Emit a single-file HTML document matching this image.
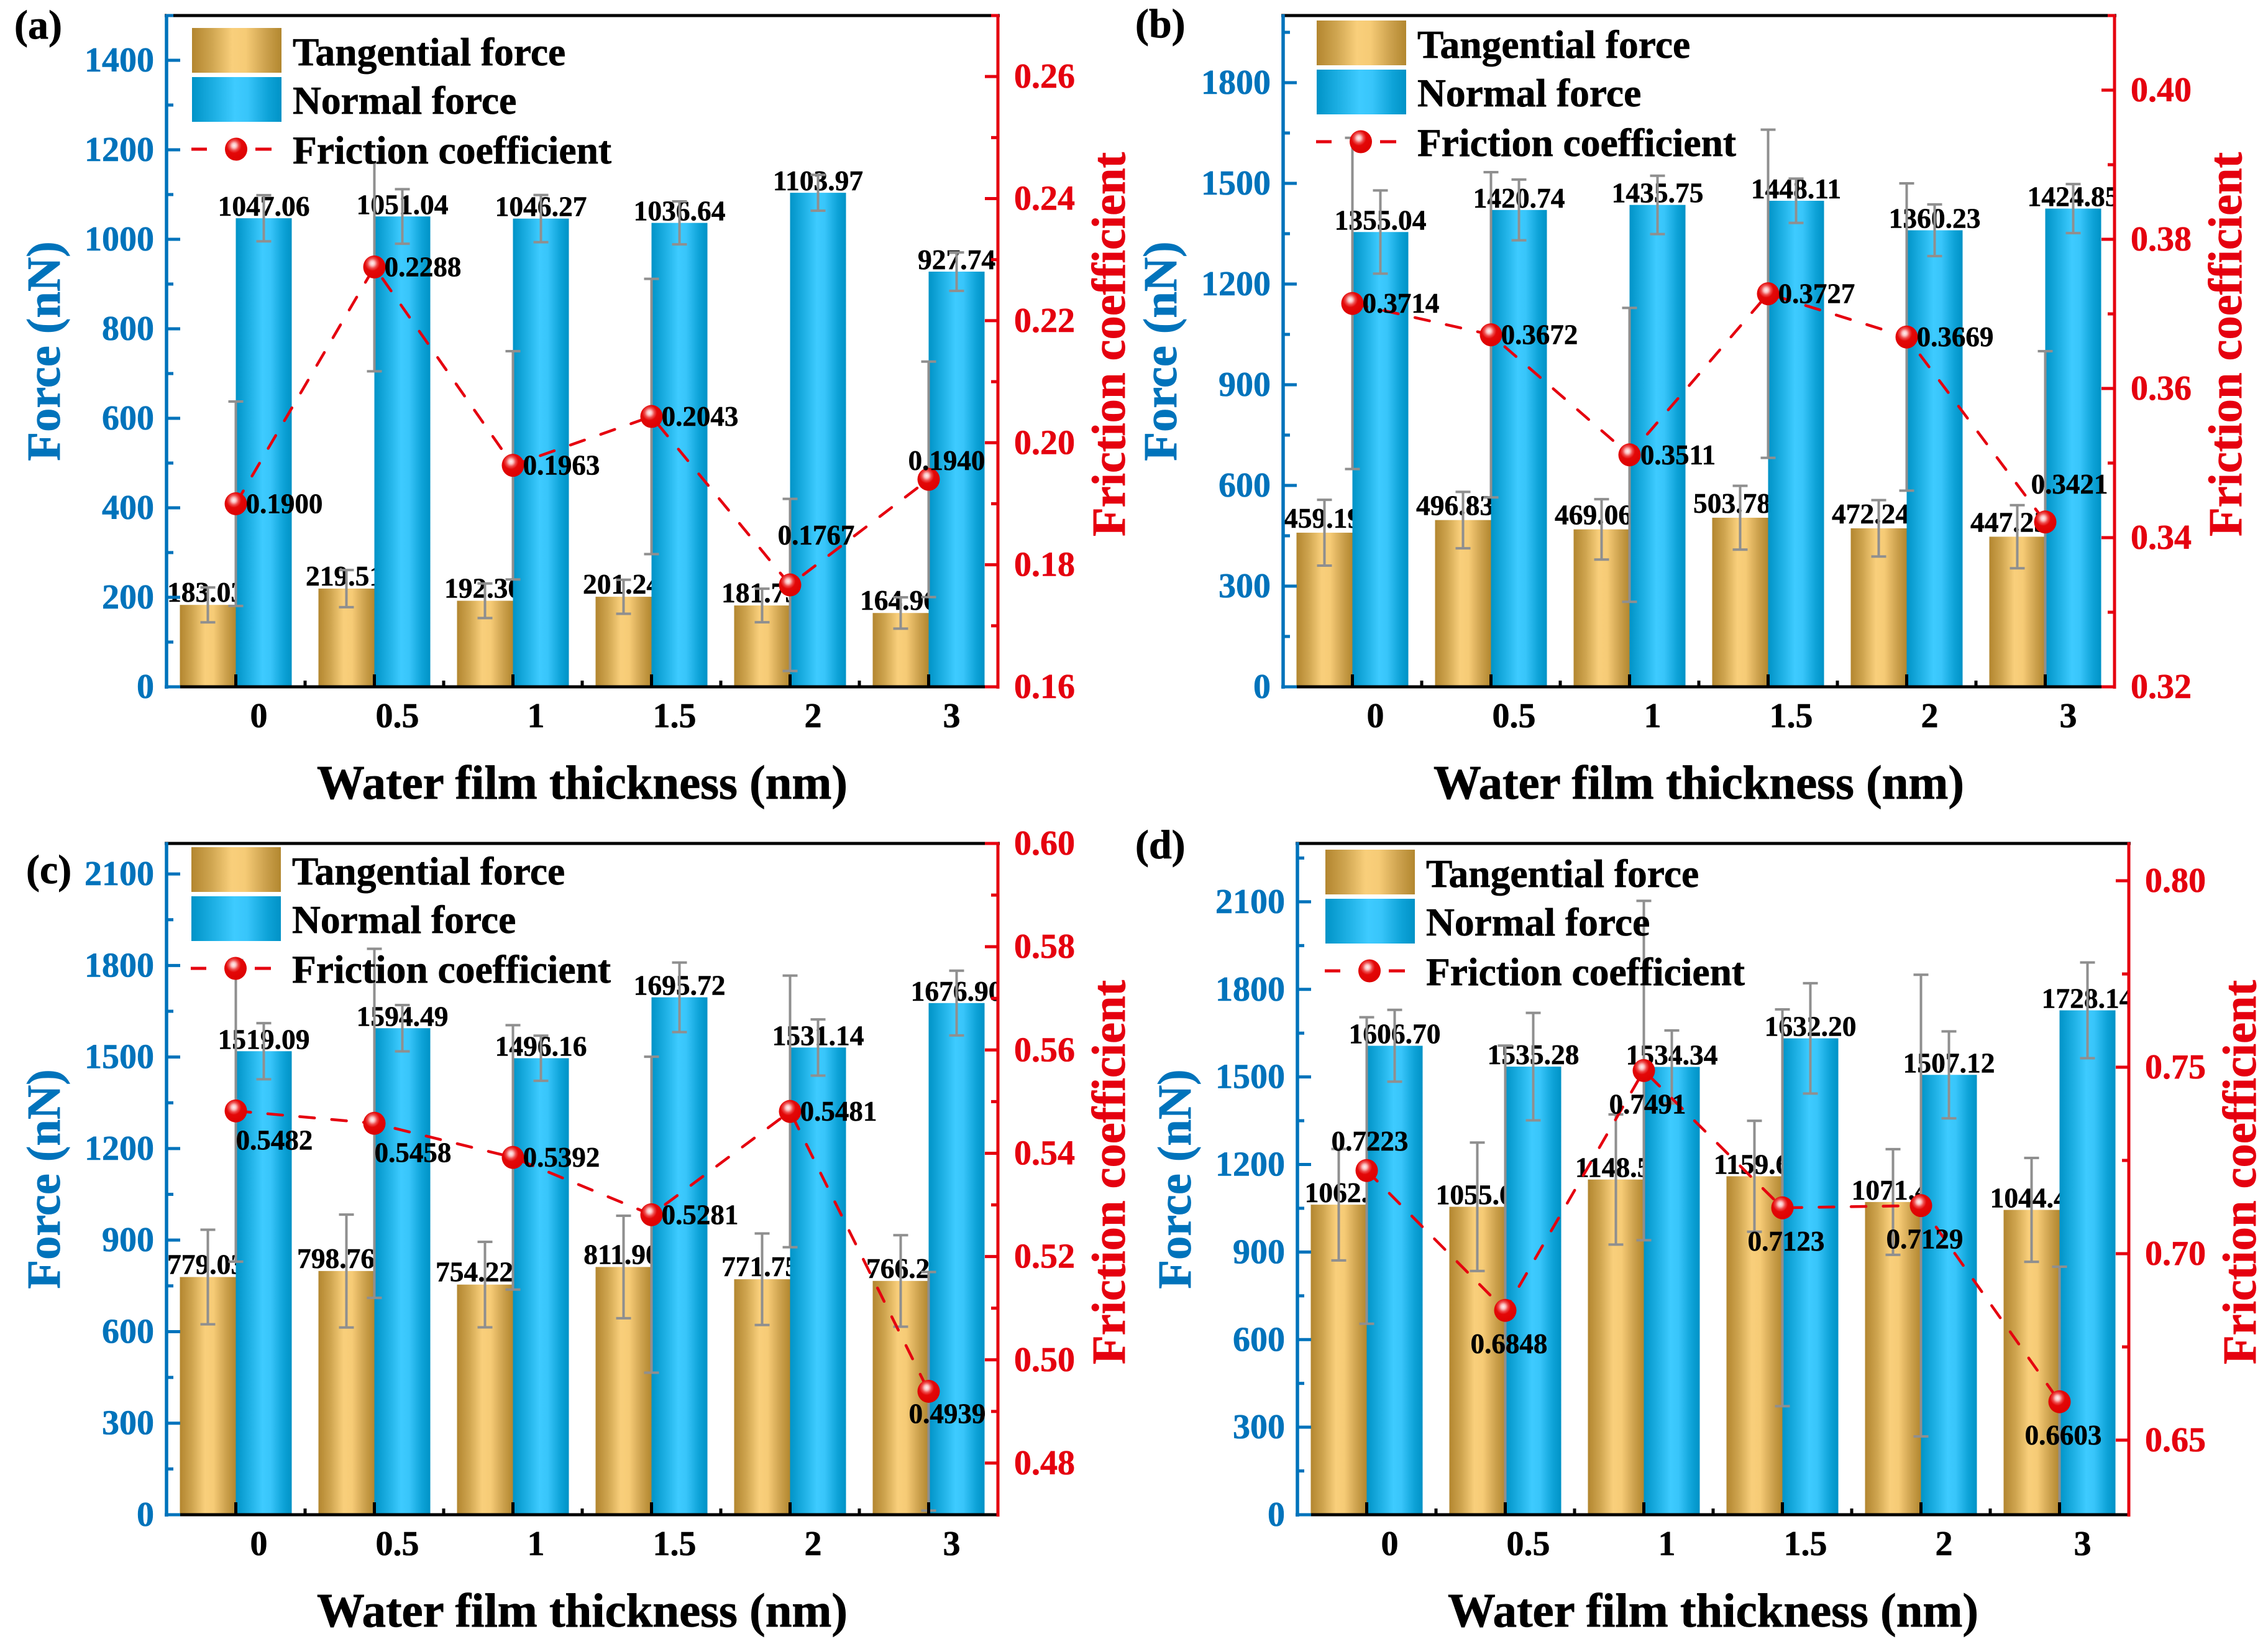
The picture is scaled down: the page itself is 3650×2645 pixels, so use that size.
<!DOCTYPE html>
<html lang="en">
<head>
<meta charset="utf-8">
<title>Force and friction coefficient versus water film thickness</title>
<style>
html,body{margin:0;padding:0;background:#fff;width:3650px;height:2645px;overflow:hidden}
svg{display:block}
text{font-family:"Liberation Serif",serif;font-weight:bold}
</style>
</head>
<body>
<svg id="figure" xmlns="http://www.w3.org/2000/svg" width="3650" height="2645" viewBox="0 0 3650 2645">
  <defs>
    <linearGradient id="tanGrad" x1="0" x2="1" y1="0" y2="0">
      <stop offset="0" stop-color="#b3862f"/><stop offset="0.22" stop-color="#cfa550"/><stop offset="0.45" stop-color="#f9cf7b"/><stop offset="0.6" stop-color="#f6cb76"/><stop offset="0.82" stop-color="#cda24e"/><stop offset="1" stop-color="#b2872f"/>
    </linearGradient>
    <linearGradient id="bluGrad" x1="0" x2="1" y1="0" y2="0">
      <stop offset="0" stop-color="#0093c7"/><stop offset="0.25" stop-color="#1eb0e4"/><stop offset="0.48" stop-color="#3ecbff"/><stop offset="0.62" stop-color="#38c5fa"/><stop offset="0.85" stop-color="#0ea3d8"/><stop offset="1" stop-color="#0092c6"/>
    </linearGradient>
    <radialGradient id="ballGrad" cx="0.41" cy="0.34" r="0.72" fx="0.41" fy="0.34">
      <stop offset="0" stop-color="#fff0f0"/><stop offset="0.14" stop-color="#fbc4c4"/><stop offset="0.3" stop-color="#ee4a4a"/><stop offset="0.46" stop-color="#e30808"/><stop offset="1" stop-color="#dc0000"/>
    </radialGradient>
  </defs>
</svg>
<script>
// ---- shared category labels
const categories = ['0', '0.5', '1', '1.5', '2', '3'];

// ---- panel (a)
const aTangential = [183.03, 219.51, 192.30, 201.24, 181.75, 164.96];
const aTangentialErr = [39, 41.5, 38.6, 38, 37.5, 35];
const aTangentialLabelSide = ['center', 'center', 'center', 'center', 'center', 'center'];
const aNormal = [1047.06, 1051.04, 1046.27, 1036.64, 1103.97, 927.74];
const aNormalErr = [51.5, 61, 52.7, 48, 40, 43];
const aFriction = [0.1900, 0.2288, 0.1963, 0.2043, 0.1767, 0.1940];
const aFrictionErr = [0.01675, 0.0171, 0.0187, 0.02255, 0.0141, 0.0193];
const aFrictionLabelSide = ['right', 'right', 'right', 'right', 'high-right', 'up-right'];
const aForceTicks = [0, 200, 400, 600, 800, 1000, 1200, 1400];
const aForceDomain = [0, 1500];
const aFrictionTicks = ['0.16', '0.18', '0.20', '0.22', '0.24', '0.26'];
const aFrictionDomain = [0.16, 0.27];

// ---- panel (b)
const bTangential = [459.19, 496.83, 469.06, 503.78, 472.24, 447.25];
const bTangentialErr = [98, 84, 90, 95, 84, 94];
const bTangentialLabelSide = ['center', 'left', 'left', 'left', 'left', 'left'];
const bNormal = [1355.04, 1420.74, 1435.75, 1448.11, 1360.23, 1424.85];
const bNormalErr = [124, 90.5, 87, 66, 77, 73];
const bFriction = [0.3714, 0.3672, 0.3511, 0.3727, 0.3669, 0.3421];
const bFrictionErr = [0.0222, 0.0218, 0.0197, 0.0220, 0.0206, 0.0229];
const bFrictionLabelSide = ['right', 'right', 'right', 'right', 'right', 'top-right'];
const bForceTicks = [0, 300, 600, 900, 1200, 1500, 1800];
const bForceDomain = [0, 2000];
const bFrictionTicks = ['0.32', '0.34', '0.36', '0.38', '0.40'];
const bFrictionDomain = [0.32, 0.41];

// ---- panel (c)
const cTangential = [779.03, 798.76, 754.22, 811.90, 771.75, 766.25];
const cTangentialErr = [155, 185, 140, 168, 150, 150];
const cTangentialLabelSide = ['center', 'left-far', 'left-far', 'center', 'center', 'right'];
const cNormal = [1519.09, 1594.49, 1496.16, 1695.72, 1531.14, 1676.90];
const cNormalErr = [92, 76, 74, 114, 92, 106];
const cFriction = [0.5482, 0.5458, 0.5392, 0.5281, 0.5481, 0.4939];
const cFrictionErr = [0.0292, 0.0338, 0.0256, 0.0306, 0.0263, 0.0231];
const cFrictionLabelSide = ['low-right', 'low-right', 'right', 'right', 'right', 'down-right'];
const cForceTicks = [0, 300, 600, 900, 1200, 1500, 1800, 2100];
const cForceDomain = [0, 2200];
const cFrictionTicks = ['0.48', '0.50', '0.52', '0.54', '0.56', '0.58', '0.60'];
const cFrictionDomain = [0.47, 0.60];

// ---- panel (d)
const dTangential = [1062.36, 1055.04, 1148.50, 1159.62, 1071.45, 1044.42];
const dTangentialErr = [191, 220, 223, 190, 181, 178];
const dTangentialLabelSide = ['right-far', 'right', 'right', 'right', 'right', 'right'];
const dNormal = [1606.70, 1535.28, 1534.34, 1632.20, 1507.12, 1728.14];
const dNormalErr = [123, 184, 125, 189, 149, 164];
const dFriction = [0.7223, 0.6848, 0.7491, 0.7123, 0.7129, 0.6603];
const dFrictionErr = [0.0411, 0.071, 0.0455, 0.0532, 0.0619, 0.0362];
const dFrictionLabelSide = ['above', 'below', 'below', 'below', 'below', 'below'];
const dForceTicks = [0, 300, 600, 900, 1200, 1500, 1800, 2100];
const dForceDomain = [0, 2300];
const dFrictionTicks = ['0.65', '0.70', '0.75', '0.80'];
const dFrictionDomain = [0.63, 0.81];

// ---- shared captions
const legendCaptions = ['Tangential force', 'Normal force', 'Friction coefficient'];
const xTitle = 'Water film thickness (nm)';
const yTitle = 'Force (nN)';
const y2Title = 'Friction coefficient';

// ---- layout & style (not data)
const BLUE = '#0073bb', RED = '#e5000f', GRAY = '#8f8f8f';
const BAND = 223, BAR_W = 90;
const LABEL_OFFSET = {
  'right': [78, 0], 'high-right': [42, -80], 'up-right': [29, -30], 'top-right': [39, -61],
  'low-right': [62, 47], 'down-right': [30, 36], 'above': [5, -47], 'below': [6, 54]
};
const TAN_LABEL_SHIFT = {'center': -3, 'left': -13, 'left-far': -17, 'right': 7, 'right-far': 19};
const panels = [
  {id:'a', left:268, top:25, bottom:1105, legend:[309,45], tag:[23,62], tanLift:5, tangential:aTangential, tangentialErr:aTangentialErr, tanSide:aTangentialLabelSide, normal:aNormal, normalErr:aNormalErr, friction:aFriction, frictionErr:aFrictionErr, side:aFrictionLabelSide, forceTicks:aForceTicks, forceDomain:aForceDomain, frictionTicks:aFrictionTicks, frictionDomain:aFrictionDomain},
  {id:'b', left:2065, top:25, bottom:1105, legend:[2119,33], tag:[1827,60], tanLift:8, tangential:bTangential, tangentialErr:bTangentialErr, tanSide:bTangentialLabelSide, normal:bNormal, normalErr:bNormalErr, friction:bFriction, frictionErr:bFrictionErr, side:bFrictionLabelSide, forceTicks:bForceTicks, forceDomain:bForceDomain, frictionTicks:bFrictionTicks, frictionDomain:bFrictionDomain},
  {id:'c', left:268, top:1357, bottom:2437, legend:[308,1363], tag:[42,1421], tanLift:5, tangential:cTangential, tangentialErr:cTangentialErr, tanSide:cTangentialLabelSide, normal:cNormal, normalErr:cNormalErr, friction:cFriction, frictionErr:cFrictionErr, side:cFrictionLabelSide, forceTicks:cForceTicks, forceDomain:cForceDomain, frictionTicks:cFrictionTicks, frictionDomain:cFrictionDomain},
  {id:'d', left:2088, top:1357, bottom:2437, legend:[2133,1367], tag:[1827,1381], tanLift:4, tangential:dTangential, tangentialErr:dTangentialErr, tanSide:dTangentialLabelSide, normal:dNormal, normalErr:dNormalErr, friction:dFriction, frictionErr:dFrictionErr, side:dFrictionLabelSide, forceTicks:dForceTicks, forceDomain:dForceDomain, frictionTicks:dFrictionTicks, frictionDomain:dFrictionDomain}
];

const NS = 'http://www.w3.org/2000/svg';
const figure = document.getElementById('figure');
function make(tag, props, parent) {
  const node = document.createElementNS(NS, tag);
  for (const key in props) node.setAttribute(key, props[key]);
  parent.appendChild(node);
  return node;
}
function group(parent, clip) {
  const g = document.createElementNS(NS, 'g');
  if (clip) g.setAttribute('clip-path', 'url(#' + clip + ')');
  parent.appendChild(g);
  return g;
}
function label(parent, x, y, str, size, fill, anchor, rotate) {
  const t = make('text', {x: x, y: y, 'font-size': size, fill: fill, 'text-anchor': anchor || 'middle', stroke: fill, 'stroke-width': (size / 90).toFixed(2)}, parent);
  if (rotate) t.setAttribute('transform', 'rotate(-90 ' + x + ' ' + y + ')');
  t.textContent = str;
  return t;
}
function hline(parent, x1, x2, y1, y2, stroke, w) {
  return make('line', {x1: x1, x2: x2, y1: y1, y2: y2, stroke: stroke, 'stroke-width': w}, parent);
}

function drawErrorBar(parent, x, yHi, yLo, name) {
  const g = group(parent);
  
  
  hline(g, x, x, yHi, yLo, GRAY, 4);
  hline(g, x - 12, x + 12, yHi, yHi, GRAY, 4);
  hline(g, x - 12, x + 12, yLo, yLo, GRAY, 4);
}

function drawPanel(p) {
  const right = p.left + BAND * categories.length;
  const root = group(figure);
  
  

  const clipId = 'plotClip' + p.id;
  const cp = make('clipPath', {id: clipId}, root);
  make('rect', {x: p.left, y: p.top, width: right - p.left, height: p.bottom - p.top}, cp);

  // axis functions
  const xAt = function (i) { return p.left + (i + 0.5) * BAND; };
  const yForce = function (v) { return p.bottom - (v - p.forceDomain[0]) / (p.forceDomain[1] - p.forceDomain[0]) * (p.bottom - p.top); };
  const yFriction = function (v) { return p.bottom - (v - p.frictionDomain[0]) / (p.frictionDomain[1] - p.frictionDomain[0]) * (p.bottom - p.top); };

  // tangential bars and labels (normal bars paint over these labels)
  categories.forEach(function (cat, i) {
    const top = yForce(p.tangential[i]);
    const bar = make('rect', {x: xAt(i) - BAR_W, y: top, width: BAR_W, height: p.bottom - top, fill: 'url(#tanGrad)'}, root);
    
    
  });
  const tanLabels = group(root, clipId);
  categories.forEach(function (cat, i) {
    const t = label(tanLabels, xAt(i) - BAR_W / 2 + TAN_LABEL_SHIFT[p.tanSide[i]], yForce(p.tangential[i]) - p.tanLift, p.tangential[i].toFixed(2), 45.5, '#000');
    
    
  });

  // normal bars and labels
  categories.forEach(function (cat, i) {
    const top = yForce(p.normal[i]);
    const bar = make('rect', {x: xAt(i), y: top, width: BAR_W, height: p.bottom - top, fill: 'url(#bluGrad)'}, root);
    
    
  });
  const norLabels = group(root, clipId);
  categories.forEach(function (cat, i) {
    const t = label(norLabels, xAt(i) + BAR_W / 2, yForce(p.normal[i]) - 4, p.normal[i].toFixed(2), 45.5, '#000');
    
    
  });

  // error bars
  const errs = group(root, clipId);
  categories.forEach(function (cat, i) {
    drawErrorBar(errs, xAt(i) - BAR_W / 2, yForce(p.tangential[i] + p.tangentialErr[i]), yForce(p.tangential[i] - p.tangentialErr[i]), 'tangential-error-' + p.id + '-' + cat);
    drawErrorBar(errs, xAt(i) + BAR_W / 2, yForce(p.normal[i] + p.normalErr[i]), yForce(p.normal[i] - p.normalErr[i]), 'normal-error-' + p.id + '-' + cat);
    drawErrorBar(errs, xAt(i), yFriction(p.friction[i] + p.frictionErr[i]), yFriction(p.friction[i] - p.frictionErr[i]), 'friction-error-' + p.id + '-' + cat);
  });

  // axes
  const axes = group(root);
  
  
  hline(axes, p.left - 3, right + 3, p.top, p.top, '#000', 5);
  hline(axes, p.left, right, p.bottom, p.bottom, '#000', 5);
  hline(axes, p.left, p.left, p.top - 2, p.bottom + 3, BLUE, 5.5);
  hline(axes, p.left - 3, p.left + 20, p.bottom, p.bottom, BLUE, 5);
  hline(axes, right, right, p.top - 2, p.bottom + 3, RED, 5);

  // x ticks
  categories.forEach(function (cat, i) {
    hline(axes, xAt(i), xAt(i), p.bottom, p.bottom - 20, '#000', 5);
    if (i < categories.length - 1) hline(axes, xAt(i) + BAND / 2, xAt(i) + BAND / 2, p.bottom, p.bottom - 10, '#000', 5);
    const t = label(axes, xAt(i) + 37, p.bottom + 65, cat, 56, '#000');
    
    
  });

  // force axis ticks
  const fStep = p.forceTicks[1] - p.forceTicks[0];
  p.forceTicks.forEach(function (v) {
    hline(axes, p.left, p.left + 22, yForce(v), yForce(v), BLUE, 5);
    if (v + fStep / 2 <= p.forceDomain[1]) hline(axes, p.left, p.left + 11, yForce(v + fStep / 2), yForce(v + fStep / 2), BLUE, 5);
    const t = label(axes, p.left - 20, yForce(v) + 18, String(v), 56, BLUE, 'end');
    
    
  });

  // friction axis ticks
  const rStep = Number(p.frictionTicks[1]) - Number(p.frictionTicks[0]);
  p.frictionTicks.forEach(function (s) {
    const v = Number(s);
    hline(axes, right, right - 21, yFriction(v), yFriction(v), RED, 5);
    if (v + rStep / 2 <= p.frictionDomain[1] + 1e-9) hline(axes, right, right - 11, yFriction(v + rStep / 2), yFriction(v + rStep / 2), RED, 5);
    const t = label(axes, right + 26, yFriction(v) + 18, s, 56, RED, 'start');
    
    
  });

  // friction line: one continuous dashed polyline through the points
  const linePoints = categories.map(function (cat, i) { return xAt(i) + ',' + yFriction(p.friction[i]); }).join(' ');
  const fl = make('polyline', {points: linePoints, fill: 'none', stroke: RED, 'stroke-width': 4.5, 'stroke-dasharray': '24 27.6', 'stroke-linecap': 'round'}, root);
  
  

  // markers and friction labels
  categories.forEach(function (cat, i) {
    const m = make('ellipse', {cx: xAt(i), cy: yFriction(p.friction[i]), rx: 18, ry: 18.5, fill: 'url(#ballGrad)'}, root);
    
    
    const off = LABEL_OFFSET[p.side[i]];
    const t = label(root, xAt(i) + off[0], yFriction(p.friction[i]) + off[1] + 15, p.friction[i].toFixed(4), 45, '#000');
    
    
  });

  // legend
  const lg = group(root);
  
  
  const lx = p.legend[0], ly = p.legend[1];
  const s1 = make('rect', {x: lx, y: ly, width: 144, height: 72, fill: 'url(#tanGrad)'}, lg);
  
  
  const s2 = make('rect', {x: lx, y: ly + 79, width: 144, height: 72, fill: 'url(#bluGrad)'}, lg);
  
  
  hline(lg, lx - 1, lx + 24, ly + 195, ly + 195, RED, 5);
  hline(lg, lx + 102, lx + 128, ly + 195, ly + 195, RED, 5);
  const s3 = make('ellipse', {cx: lx + 71, cy: ly + 195, rx: 18, ry: 18.5, fill: 'url(#ballGrad)'}, lg);
  
  
  const l1 = label(lg, lx + 162, ly + 60, legendCaptions[0], 63.5, '#000', 'start');
  
  
  const l2 = label(lg, lx + 162, ly + 138, legendCaptions[1], 63.5, '#000', 'start');
  
  
  const l3 = label(lg, lx + 162, ly + 218, legendCaptions[2], 63.5, '#000', 'start');
  
  

  // titles
  const mid = (p.top + p.bottom) / 2;
  const xt = label(root, (p.left + right) / 2, p.bottom + 180, xTitle, 76.8, '#000');
  
  
  const yt = label(root, p.left - 172, mid, yTitle, 76.5, BLUE, 'middle', true);
  
  
  const rt = label(root, right + 204, mid - 11, y2Title, 76.5, RED, 'middle', true);
  
  
  const tg = label(root, p.tag[0], p.tag[1], '(' + p.id + ')', 66, '#000', 'start');
  
  
}

panels.forEach(drawPanel);
</script>
</body>
</html>
